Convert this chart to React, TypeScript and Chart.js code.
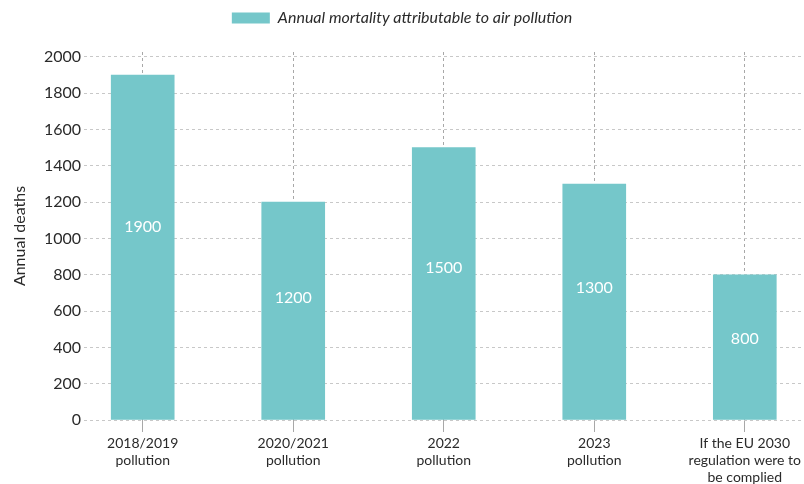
import React, { useEffect, useRef } from "react";
import { Chart, registerables } from "chart.js";

Chart.register(...registerables);

const categories: string[][] = [
  ["2018/2019", "pollution"],
  ["2020/2021", "pollution"],
  ["2022", "pollution"],
  ["2023", "pollution"],
  ["If the EU 2030", "regulation were to", "be complied"],
];
const annualDeaths: number[] = [1900, 1200, 1500, 1300, 800];
const seriesLabel = "Annual mortality attributable to air pollution";
const yAxisTitle = "Annual deaths";
const yTickValues: number[] = [0, 200, 400, 600, 800, 1000, 1200, 1400, 1600, 1800, 2000];

const FONT = "Lato, 'Open Sans', sans-serif";
const BAR_COLOR = "rgb(117,199,202)";

const legendGap = {
  id: "legendGap",
  beforeInit(chart: any) {
    const legend = chart.legend;
    if (!legend) return;
    const origFit = legend.fit;
    legend.fit = function () {
      origFit.call(this);
      this.height += 16;
    };
  },
};

const valueLabels = {
  id: "valueLabels",
  afterDatasetsDraw(chart: any) {
    const ctx = chart.ctx;
    const meta = chart.getDatasetMeta(0);
    const yScale = chart.scales.y;
    ctx.save();
    ctx.font = `16px ${FONT}`;
    ctx.fillStyle = "#ffffff";
    ctx.textAlign = "center";
    ctx.textBaseline = "middle";
    meta.data.forEach((bar: any, i: number) => {
      const v = annualDeaths[i];
      ctx.fillText(String(v), bar.x, yScale.getPixelForValue(v * 0.56));
    });
    ctx.restore();
  },
};

export default function App() {
  const ref = useRef<HTMLCanvasElement | null>(null);
  useEffect(() => {
    if (!ref.current) return;
    const chart = new Chart(ref.current, {
      type: "bar",
      data: {
        datasets: [
          {
            label: seriesLabel,
            data: annualDeaths.map((v, i) => ({ x: i, y: v })),
            backgroundColor: BAR_COLOR,
            borderWidth: 0,
            barThickness: 63,
          },
        ],
      },
      options: {
        responsive: false,
        animation: false,
        layout: { padding: { top: 0, left: 0, right: 0, bottom: 0 } },
        plugins: {
          tooltip: { enabled: false },
          legend: {
            position: "top",
            labels: {
              boxWidth: 38,
              boxHeight: 11,
              padding: 10,
              color: "#2a2a2a",
              font: { family: FONT, size: 16, style: "italic" },
            },
          },
        },
        scales: {
          x: {
            type: "linear",
            min: -0.39,
            max: 4.374,
            offset: false,
            grid: {
              offset: false,
              color: "#a8a8a8",
              lineWidth: 1,
              tickLength: 12,
              drawTicks: true,
            },
            border: { display: false, dash: [3, 3] },
            ticks: {
              stepSize: 1,
              includeBounds: false,
              autoSkip: false,
              maxRotation: 0,
              padding: 3,
              color: "#2a2a2a",
              font: { family: FONT, size: 14, lineHeight: 1.2 },
              callback: (v: any) => {
                const i = Number(v);
                return Number.isInteger(i) && categories[i] ? categories[i] : "";
              },
            },
            afterFit: (s: any) => {
              s.height = 64;
            },
          },
          y: {
            min: 0,
            max: 2027,
            grid: { color: "#c8c8c8", drawTicks: false },
            border: { display: false, dash: [3, 3] },
            afterBuildTicks: (s: any) => {
              s.ticks = yTickValues.map((v) => ({ value: v }));
            },
            ticks: {
              autoSkip: false,
              padding: 3,
              color: "#2a2a2a",
              font: { family: FONT, size: 16 },
              callback: (v: any) => String(v),
            },
            title: {
              display: true,
              text: yAxisTitle,
              color: "#2a2a2a",
              font: { family: FONT, size: 16 },
              padding: { top: 10, bottom: 0 },
            },
            afterFit: (s: any) => {
              s.width = 84;
            },
          },
        },
      },
      plugins: [legendGap, valueLabels],
    } as any);
    return () => chart.destroy();
  }, []);
  return (
    <div style={{ position: "fixed", left: 0, top: 0, width: 804, height: 484, background: "#fff" }}>
      <canvas ref={ref} width={804} height={484} style={{ display: "block" }} />
    </div>
  );
}
